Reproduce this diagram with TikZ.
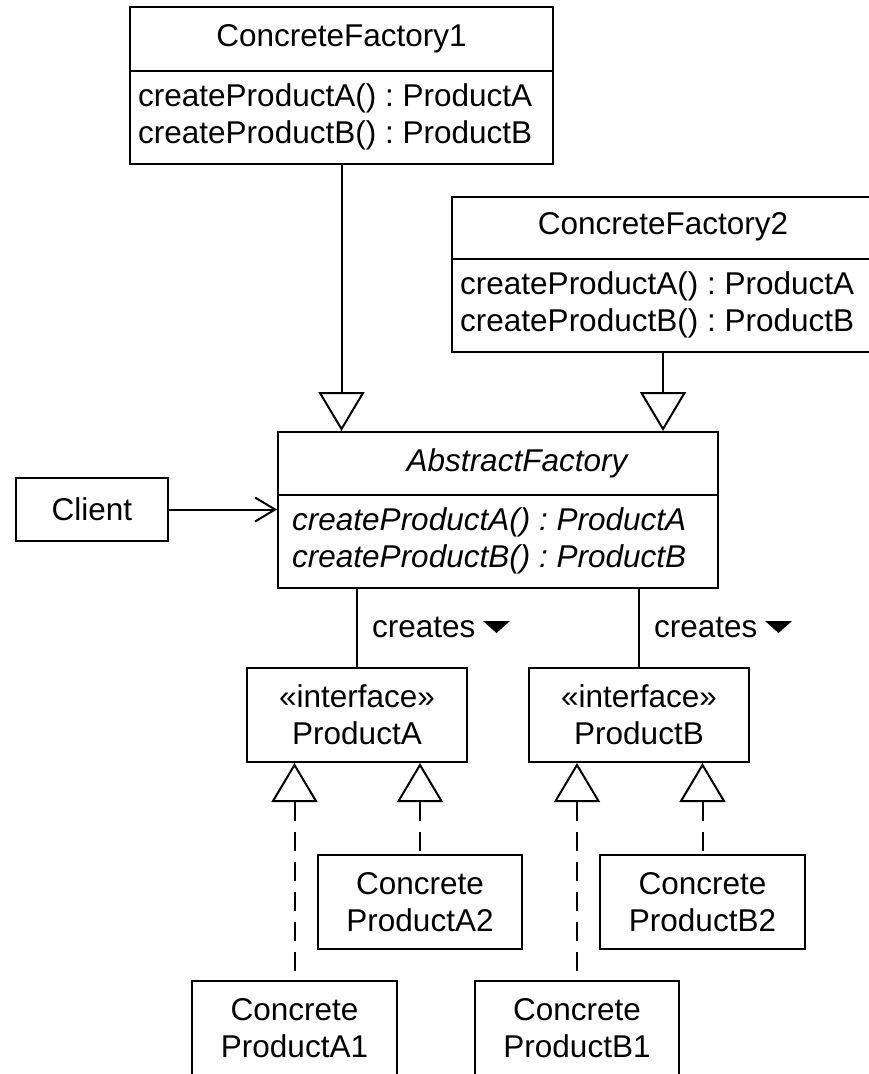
\documentclass[tikz,border=0pt]{standalone}
\usepackage{fontspec}
\setmainfont{Liberation Sans}
\usetikzlibrary{arrows.meta}
\frenchspacing
\begin{document}
\begin{tikzpicture}[x=1pt,y=-1pt,
  txt/.style={inner sep=0pt, font=\fontsize{31.5}{37}\selectfont},
  box/.style={draw, line width=2pt, inner sep=0pt, align=center, font=\fontsize{31.5}{37}\selectfont},
  rule/.style={line width=2pt},
  gen/.style={line width=2pt, -{Triangle[open, fill=white, length=39pt, width=46pt]}},
  real/.style={line width=2pt, dash pattern=on 19pt off 11pt, {Triangle[open, fill=white, length=39pt, width=46pt]}-},
  assoc/.style={line width=2pt},
  nav/.style={line width=2pt, -{Straight Barb[length=20pt, width=24pt]}},
]
\useasboundingbox (0,0) rectangle (869,1074);
\clip (0,0) rectangle (869,1074);

% ConcreteFactory1
\node[box, minimum width=423pt, minimum height=157pt] (cf1) at (341.5,85.5) {};
\node[txt] (cf1n) at (341.5,39) {ConcreteFactory1};
\node[txt, anchor=west, align=left] (cf1m) at (138,117) {createProductA() : ProductA\\createProductB() : ProductB};
\draw[rule] (cf1.west |- 0,71) -- (cf1.east |- 0,71);

% ConcreteFactory2
\node[box, minimum width=422pt, minimum height=155pt] (cf2) at (663,274.5) {};
\node[txt] (cf2n) at (663,227) {ConcreteFactory2};
\node[txt, anchor=west, align=left] (cf2m) at (460,305) {createProductA() : ProductA\\createProductB() : ProductB};
\draw[rule] (cf2.west |- 0,259) -- (cf2.east |- 0,259);

% AbstractFactory
\node[box, minimum width=440pt, minimum height=156pt] (af) at (498,510) {};
\node[txt, font=\fontsize{31.5}{37}\selectfont\itshape] (afn) at (517,463) {AbstractFactory};
\node[txt, anchor=west, align=left, font=\fontsize{31.5}{37}\selectfont\itshape] (afm) at (292,541) {createProductA() : ProductA\\createProductB() : ProductB};
\draw[rule] (af.west |- 0,495) -- (af.east |- 0,495);

% Client
\node[box, minimum width=152pt, minimum height=63pt] (client) at (92,509.5) {Client};

% Product interfaces
\node[box, minimum width=220pt, minimum height=94pt] (pa) at (357,715) {«interface»\\ProductA};
\node[box, minimum width=220pt, minimum height=94pt] (pb) at (639,715) {«interface»\\ProductB};

% Concrete products
\node[box, minimum width=204pt, minimum height=94pt] (a2) at (420,902) {Concrete\\ProductA2};
\node[box, minimum width=205pt, minimum height=94pt] (b2) at (702.5,902) {Concrete\\ProductB2};
\node[box, minimum width=205pt, minimum height=94pt] (a1) at (294.5,1028) {Concrete\\ProductA1};
\node[box, minimum width=204pt, minimum height=94pt] (b1) at (577,1028) {Concrete\\ProductB1};

% Generalizations of the factories
\draw[gen] (cf1.south) -- (cf1.south |- af.north);
\draw[gen] (cf2.south) -- (cf2.south |- af.north);

% Client navigates to the factory
\draw[nav] (client.east) -- (client.east -| af.west);

% "creates" associations
\draw[assoc] (af.south -| pa.north) -- (pa.north);
\draw[assoc] (af.south -| pb.north) -- (pb.north);
\node[txt, anchor=west] (crA) at (372,627) {creates};
\node[txt, anchor=west] (crB) at (654,627) {creates};
\fill (483,621) -- (510,621) -- (496.5,633) -- cycle;
\fill (765,621) -- (792,621) -- (778.5,633) -- cycle;

% Realizations of the interfaces
\draw[real] (a1.north |- pa.south) -- (a1.north);
\draw[real] (a2.north |- pa.south) -- (a2.north);
\draw[real] (b1.north |- pb.south) -- (b1.north);
\draw[real] (b2.north |- pb.south) -- (b2.north);
\end{tikzpicture}
\end{document}
